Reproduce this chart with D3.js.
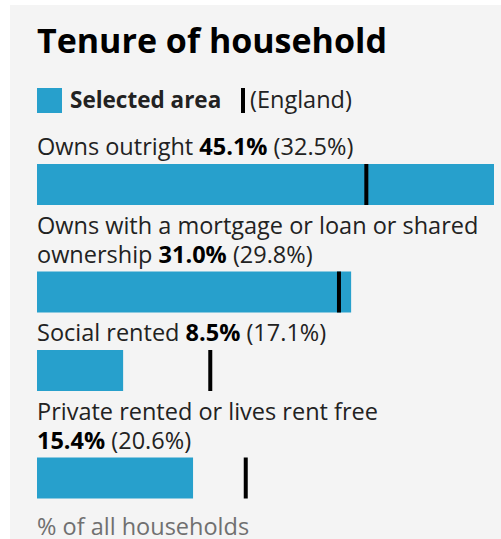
<!DOCTYPE html>
<html>
<head>
<meta charset="utf-8">
<script src="https://cdn.jsdelivr.net/npm/d3@7"></script>
<style>
  body { margin: 0; background: #fff; }
  svg { display: block; font-family: "Open Sans", sans-serif; }
</style>
</head>
<body>
<svg id="canvas"></svg>
<script>
const categories = ["Owns outright", "Owns with a mortgage or loan or shared ownership", "Social rented", "Private rented or lives rent free"];
const areaValues = [45.1, 31.0, 8.5, 15.4];
const englandValues = [32.5, 29.8, 17.1, 20.6];
const title = "Tenure of household";
const legendLabels = ["Selected area", "(England)"];
const footer = "% of all households";

const width = 501;
const height = 539;
const margin = {left: 37, right: 7};
const barHeight = 41;
const lineHeight = 29;
const fontSize = "23.5px";
const barColor = "#27a0cc";
const textColor = "#222";

const svg = d3.select("#canvas").attr("width", width).attr("height", height);

svg.append("rect")
    .attr("x", 10).attr("y", 5)
    .attr("width", width - 10).attr("height", height - 5)
    .attr("fill", "#f4f4f4");

svg.append("text")
    .attr("x", margin.left).attr("y", 53)
    .attr("fill", "#000")
    .style("font-size", "34px")
    .style("font-weight", 700)
    .text(title);

// legend
const legend = svg.append("g").attr("transform", "translate(0, 88)");
legend.append("rect")
    .attr("x", margin.left).attr("y", 0)
    .attr("width", 25).attr("height", 25)
    .attr("fill", barColor);
legend.append("text")
    .attr("x", 70).attr("y", 20)
    .attr("fill", textColor)
    .style("font-size", "22.5px")
    .style("font-weight", 700)
    .text(legendLabels[0]);
legend.append("rect")
    .attr("x", 241).attr("y", 0)
    .attr("width", 4).attr("height", 25)
    .attr("fill", "#000");
legend.append("text")
    .attr("x", 250).attr("y", 20)
    .attr("fill", textColor)
    .style("font-size", fontSize)
    .text(legendLabels[1]);

const xScale = d3.scaleLinear()
    .domain([0, d3.max(areaValues)])
    .range([margin.left, width - margin.right]);
const maxWidth = xScale.range()[1] - xScale.range()[0];

// measure helper
const measure = svg.append("text").style("font-size", fontSize).attr("opacity", 0);
function textWidth(str, bold) {
    measure.style("font-weight", bold ? 700 : 400).text(str);
    return measure.node().getComputedTextLength();
}

const fmt = d3.format(".1f");
const rows = svg.append("g");
let baseline = 155;

categories.forEach((cat, i) => {
    const words = cat.split(" ");
    const valueStr = fmt(areaValues[i]) + "%";
    const engStr = " (" + fmt(englandValues[i]) + "%)";
    const tailWidth = textWidth(valueStr, true) + textWidth(engStr, false);
    const spaceW = textWidth("a a", false) - textWidth("aa", false);

    // wrap words, keeping the value and England value together
    const lines = [[]];
    let cur = 0;
    words.forEach(w => {
        const ww = textWidth(w, false);
        const add = (lines[lines.length - 1].length ? spaceW : 0) + ww;
        if (cur + add > maxWidth && lines[lines.length - 1].length) {
            lines.push([w]);
            cur = ww;
        } else {
            lines[lines.length - 1].push(w);
            cur += add;
        }
    });
    if (cur + spaceW + tailWidth > maxWidth) lines.push([]);

    lines.forEach((ln, j) => {
        const t = rows.append("text")
            .attr("x", margin.left)
            .attr("y", baseline + j * lineHeight)
            .attr("fill", textColor)
            .style("font-size", fontSize);
        const isLast = j === lines.length - 1;
        if (ln.length) t.append("tspan").text(ln.join(" ") + (isLast ? " " : ""));
        if (isLast) {
            t.append("tspan").style("font-weight", 700).attr("fill", "#000").text(valueStr);
            t.append("tspan").text(engStr);
        }
    });

    const barTop = baseline + (lines.length - 1) * lineHeight + 9;
    rows.append("rect")
        .attr("x", xScale(0))
        .attr("y", barTop)
        .attr("width", xScale(areaValues[i]) - xScale(0))
        .attr("height", barHeight)
        .attr("fill", barColor);
    rows.append("rect")
        .attr("x", xScale(englandValues[i]) - 2)
        .attr("y", barTop)
        .attr("width", 4)
        .attr("height", barHeight)
        .attr("fill", "#000");

    baseline = barTop + barHeight + 28.5;
});

measure.remove();

svg.append("text")
    .attr("x", margin.left).attr("y", baseline + 8)
    .attr("fill", "#707070")
    .style("font-size", fontSize)
    .text(footer);
</script>
</body>
</html>
